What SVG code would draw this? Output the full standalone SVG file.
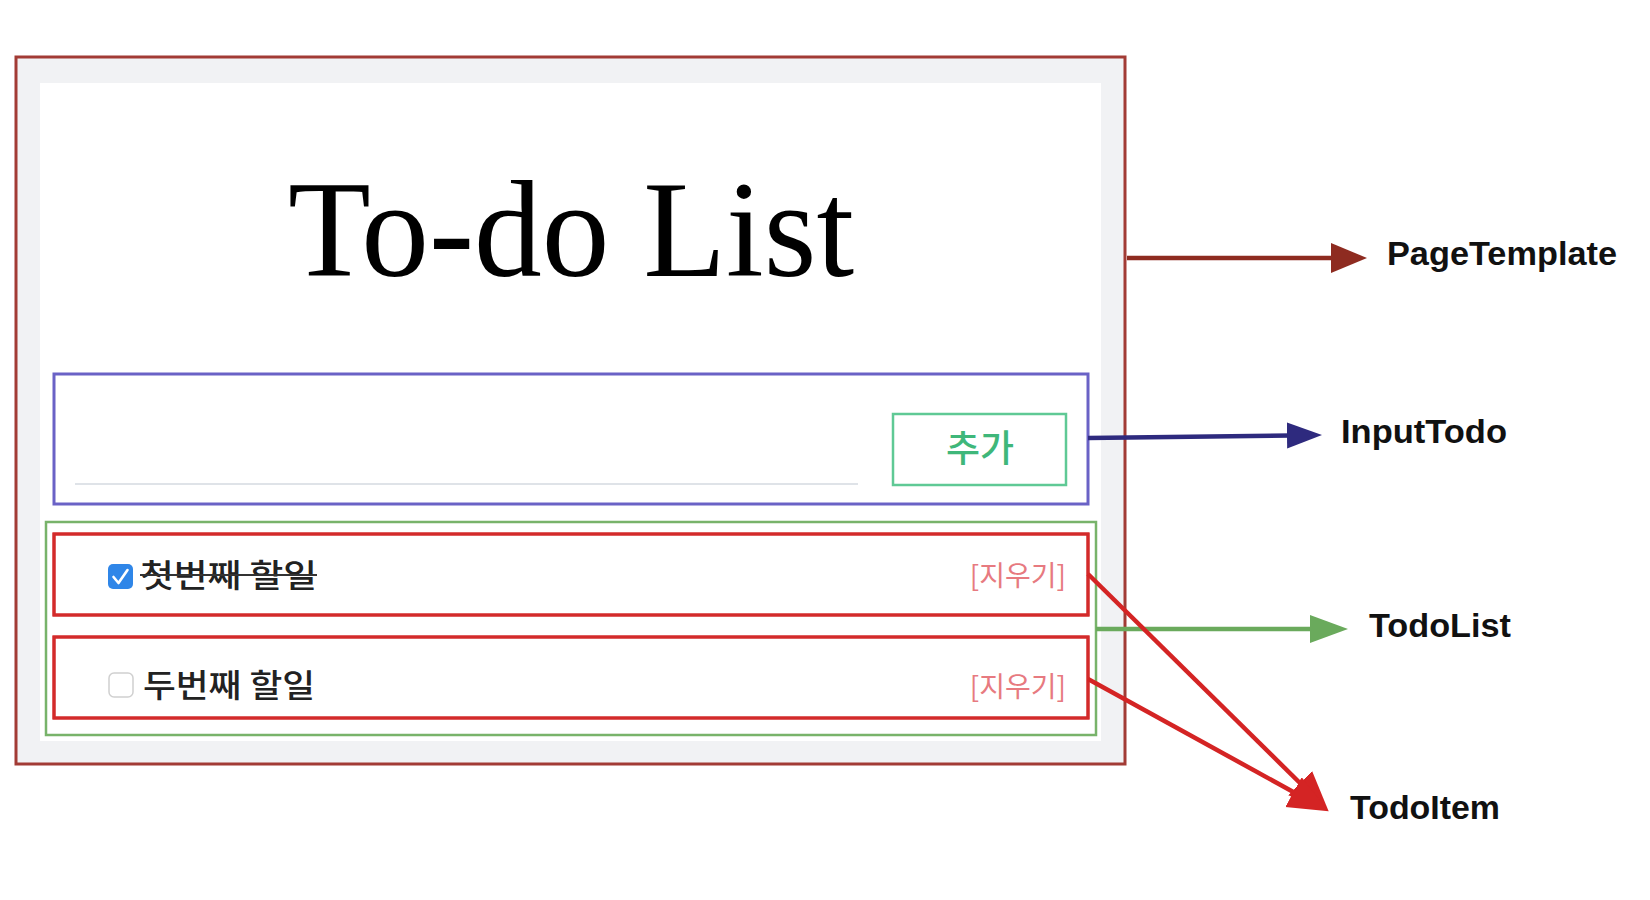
<svg xmlns="http://www.w3.org/2000/svg" width="1650" height="900" viewBox="0 0 1650 900">
  <style>
    .label { font-family: "Liberation Sans", "Noto Sans", sans-serif; font-weight: bold; font-size: 33px; fill: #111; }
    .ko { font-family: "Noto Sans CJK KR", "Noto Sans", sans-serif; }
    .item { fill: none; stroke: #d32a2a; stroke-width: 3; }
    .del { font-family: "Noto Sans CJK KR", sans-serif; font-size: 28px; fill: #e77a80; text-anchor: end; }
    .todo { font-family: "Noto Sans CJK KR", sans-serif; font-size: 32px; font-weight: 500; fill: #222; }
    .conn { fill: none; stroke-width: 4.5; }
  </style>
  <defs>
    <marker id="mPage" markerUnits="userSpaceOnUse" markerWidth="40" markerHeight="32" refX="4" refY="15" orient="auto">
      <path d="M0,0 L36,15 L0,30 z" fill="#8e2b20"/>
    </marker>
    <marker id="mInput" markerUnits="userSpaceOnUse" markerWidth="40" markerHeight="30" refX="4" refY="13" orient="auto">
      <path d="M0,0 L35,13 L0,26 z" fill="#2e2a7e"/>
    </marker>
    <marker id="mList" markerUnits="userSpaceOnUse" markerWidth="42" markerHeight="30" refX="4" refY="14" orient="auto">
      <path d="M0,0 L38,14 L0,28 z" fill="#6aaa5c"/>
    </marker>
    <marker id="mItem" markerUnits="userSpaceOnUse" markerWidth="44" markerHeight="36" refX="4" refY="17" orient="auto">
      <path d="M0,0 L40,17 L0,34 z" fill="#d42424"/>
    </marker>
  </defs>
  <rect width="1650" height="900" fill="#ffffff"/>

  <g id="PageTemplate">
    <rect x="16" y="57" width="1109" height="707" fill="#f1f2f4" stroke="#a23b35" stroke-width="3"/>
    <rect x="40" y="83" width="1061" height="658" fill="#ffffff"/>
    <text x="288" y="276" font-family="'Liberation Serif', 'Times New Roman', serif" font-size="138" fill="#000" textLength="566" lengthAdjust="spacingAndGlyphs">To-do List</text>
  </g>

  <g id="InputTodo">
    <rect x="54" y="374" width="1034" height="130" fill="#ffffff" stroke="#6a62c6" stroke-width="3"/>
    <line x1="75" y1="484" x2="858" y2="484" stroke="#dfe3e8" stroke-width="2"/>
    <rect x="893" y="414" width="173" height="71" fill="#ffffff" stroke="#5fc995" stroke-width="2.5"/>
    <text x="980" y="462" class="ko" font-size="37" font-weight="500" fill="#3fb77a" text-anchor="middle">추가</text>
  </g>

  <g id="TodoList">
    <rect x="46" y="522" width="1050" height="213" fill="#ffffff" stroke="#78b36a" stroke-width="2.5"/>
  </g>

  <g id="TodoItem1">
    <rect x="54" y="534" width="1034" height="81" fill="#f8f9fa" class="item"/>
    <rect x="54" y="534" width="1034" height="81" class="item"/>
    <rect x="108" y="564" width="25" height="25" rx="5" fill="#2f86e8"/>
    <path d="M113.5,577 L118.5,583 L127.5,570" fill="none" stroke="#ffffff" stroke-width="2.6" stroke-linecap="round" stroke-linejoin="round"/>
    <text x="140" y="587" class="todo" textLength="177" lengthAdjust="spacingAndGlyphs">첫번째 할일</text>
    <line x1="140" y1="575" x2="317" y2="575" stroke="#333" stroke-width="2"/>
    <text x="1066" y="586" class="del">[지우기]</text>
  </g>

  <g id="TodoItem2">
    <rect x="54" y="637" width="1034" height="81" fill="#ffffff" class="item"/>
    <rect x="54" y="637" width="1034" height="81" class="item"/>
    <rect x="109" y="673" width="24" height="24" rx="5" fill="#ffffff" stroke="#d0d0d0" stroke-width="1.5"/>
    <text x="143" y="697" class="todo" textLength="172" lengthAdjust="spacingAndGlyphs">두번째 할일</text>
    <text x="1066" y="697" class="del">[지우기]</text>
  </g>

  <g id="connectors">
    <line class="conn" x1="1127" y1="258" x2="1335" y2="258" stroke="#8e2b20" marker-end="url(#mPage)"/>
    <line class="conn" x1="1088" y1="438" x2="1291" y2="435.4" stroke="#2e2a7e" marker-end="url(#mInput)"/>
    <line class="conn" x1="1096" y1="629" x2="1314" y2="629" stroke="#6aaa5c" marker-end="url(#mList)"/>
    <line class="conn" x1="1088" y1="574" x2="1303" y2="786" stroke="#d42424" marker-end="url(#mItem)"/>
    <line class="conn" x1="1088" y1="679" x2="1297" y2="794" stroke="#d42424" marker-end="url(#mItem)"/>
  </g>

  <g id="labels">
    <text x="1387" y="265" class="label" textLength="230" lengthAdjust="spacingAndGlyphs">PageTemplate</text>
    <text x="1341" y="443" class="label" textLength="166" lengthAdjust="spacingAndGlyphs">InputTodo</text>
    <text x="1369" y="637" class="label" textLength="142" lengthAdjust="spacingAndGlyphs">TodoList</text>
    <text x="1350" y="819" class="label" textLength="150" lengthAdjust="spacingAndGlyphs">TodoItem</text>
  </g>
</svg>
